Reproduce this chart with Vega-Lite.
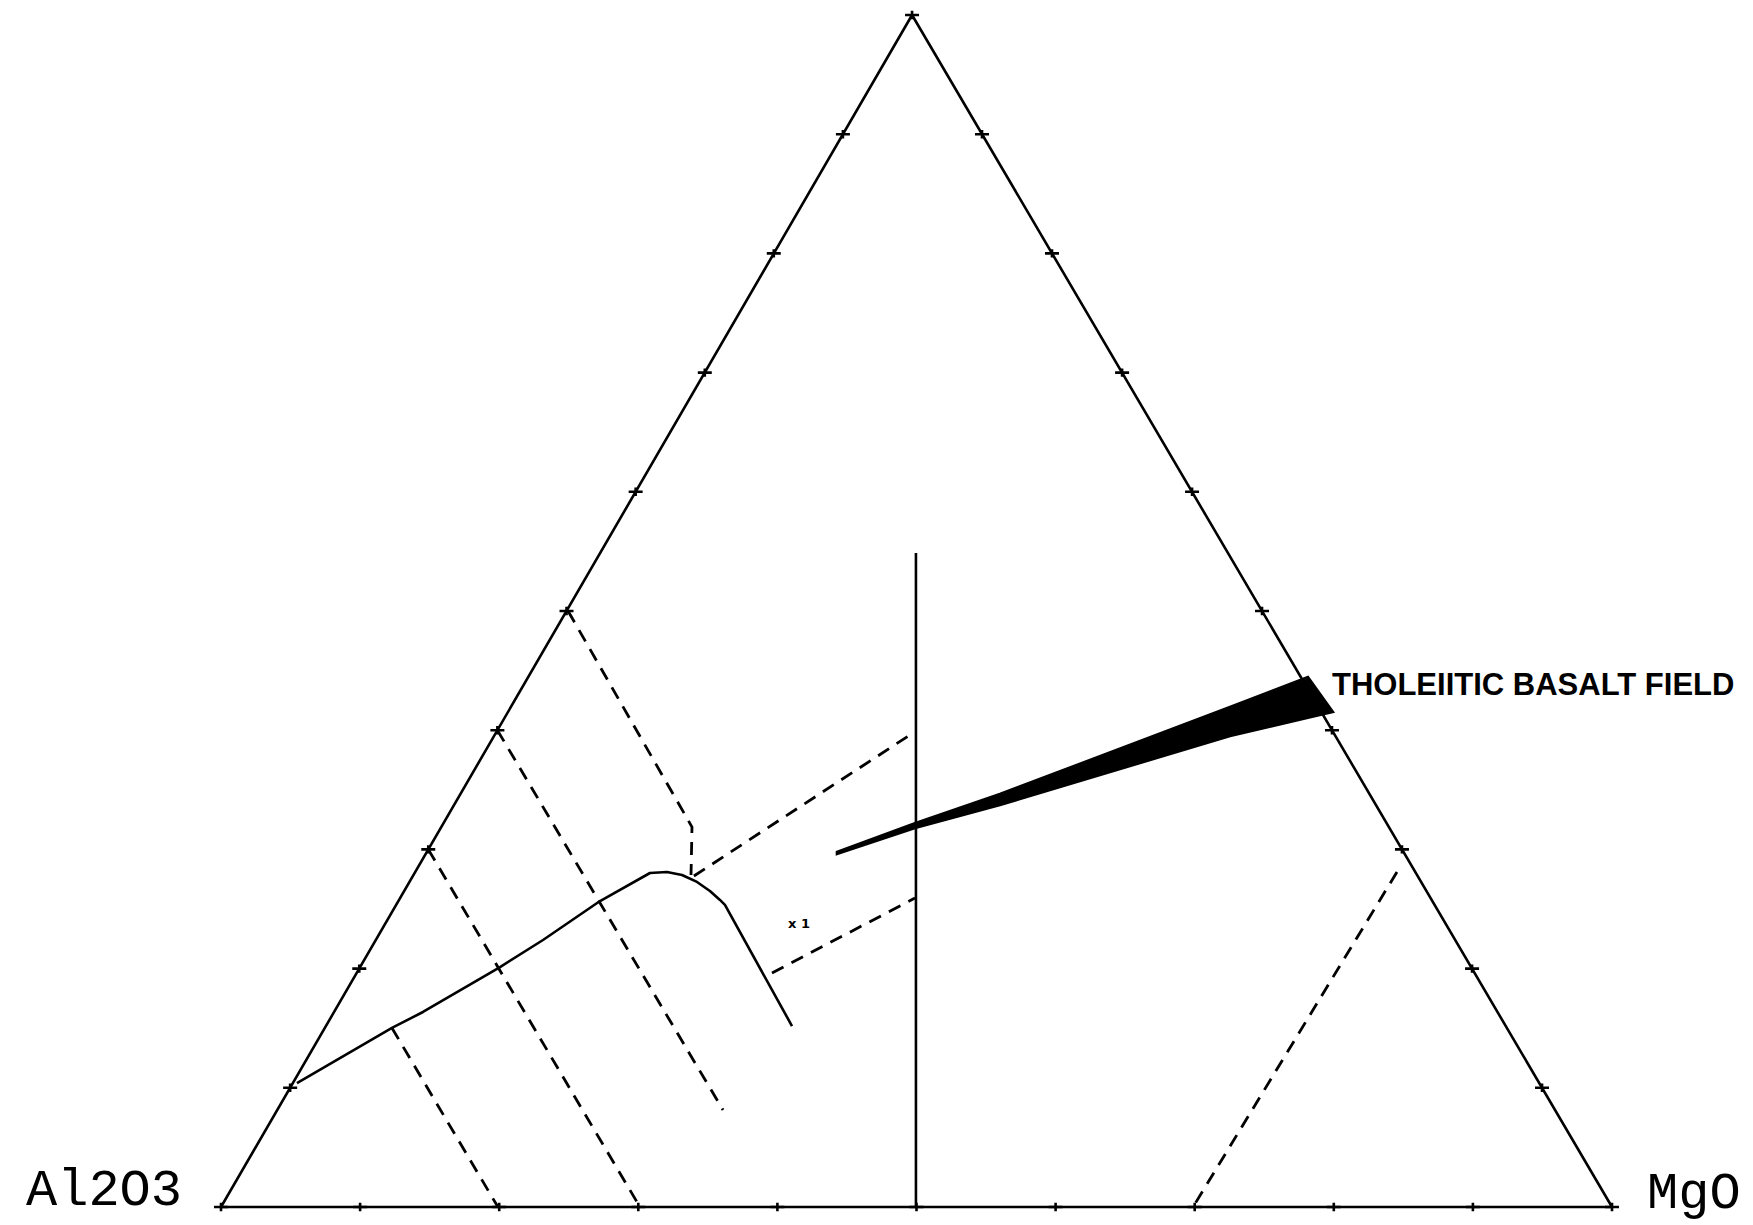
{
  "$schema": "https://vega.github.io/schema/vega-lite/v6.json",
  "width": 1391,
  "height": 1192,
  "autosize": {"type": "none"},
  "padding": {"left": 221, "top": 15, "right": 141, "bottom": 18},
  "background": "white",
  "config": {"view": {"stroke": null}},
  "datasets": {
    "solid": [
      {"g": "tri", "o": 1, "X": 0, "Y": 0},
      {"g": "tri", "o": 2, "X": 49.68, "Y": 100},
      {"g": "tri", "o": 3, "X": 100, "Y": 0},
      {"g": "tri", "o": 4, "X": 0, "Y": 0},
      {"g": "vert", "o": 1, "X": 49.96, "Y": 0},
      {"g": "vert", "o": 2, "X": 49.96, "Y": 54.87},
      {"g": "curve", "o": 1, "X": 5.46, "Y": 10.40},
      {"g": "curve", "o": 2, "X": 12.29, "Y": 15.02},
      {"g": "curve", "o": 3, "X": 14.52, "Y": 16.36},
      {"g": "curve", "o": 4, "X": 20.06, "Y": 20.13},
      {"g": "curve", "o": 5, "X": 23.15, "Y": 22.40},
      {"g": "curve", "o": 6, "X": 27.25, "Y": 25.67},
      {"g": "curve", "o": 7, "X": 30.84, "Y": 28.02},
      {"g": "curve", "o": 8, "X": 32.06, "Y": 28.10},
      {"g": "curve", "o": 9, "X": 33.14, "Y": 27.85},
      {"g": "curve", "o": 10, "X": 34.22, "Y": 27.27},
      {"g": "curve", "o": 11, "X": 35.15, "Y": 26.51},
      {"g": "curve", "o": 12, "X": 35.87, "Y": 25.76},
      {"g": "curve", "o": 13, "X": 36.23, "Y": 25.34},
      {"g": "curve", "o": 14, "X": 41.05, "Y": 15.18}
    ],
    "dashed": [
      {"g": "d1", "o": 1, "X": 24.95, "Y": 50.0},
      {"g": "d1", "o": 2, "X": 33.86, "Y": 31.88},
      {"g": "d1", "o": 3, "X": 33.79, "Y": 27.85},
      {"g": "d2", "o": 1, "X": 19.87, "Y": 40.0},
      {"g": "d2", "o": 2, "X": 36.09, "Y": 8.14},
      {"g": "d3", "o": 1, "X": 14.90, "Y": 30.0},
      {"g": "d3", "o": 2, "X": 30.12, "Y": 0},
      {"g": "d4", "o": 1, "X": 12.29, "Y": 15.02},
      {"g": "d4", "o": 2, "X": 19.91, "Y": 0},
      {"g": "d6", "o": 1, "X": 34.0, "Y": 27.77},
      {"g": "d6", "o": 2, "X": 49.75, "Y": 39.77},
      {"g": "d7", "o": 1, "X": 39.61, "Y": 19.63},
      {"g": "d7", "o": 2, "X": 49.89, "Y": 25.92},
      {"g": "d8", "o": 1, "X": 84.54, "Y": 28.10},
      {"g": "d8", "o": 2, "X": 69.88, "Y": 0}
    ],
    "ticks": [
      {"X": 0, "Y": 0}, {"X": 4.97, "Y": 10}, {"X": 9.94, "Y": 20}, {"X": 14.90, "Y": 30},
      {"X": 19.87, "Y": 40}, {"X": 24.84, "Y": 50}, {"X": 29.81, "Y": 60}, {"X": 34.78, "Y": 70},
      {"X": 39.74, "Y": 80}, {"X": 44.71, "Y": 90}, {"X": 49.68, "Y": 100},
      {"X": 54.71, "Y": 90}, {"X": 59.74, "Y": 80}, {"X": 64.78, "Y": 70}, {"X": 69.81, "Y": 60},
      {"X": 74.84, "Y": 50}, {"X": 79.87, "Y": 40}, {"X": 84.90, "Y": 30}, {"X": 89.94, "Y": 20},
      {"X": 94.97, "Y": 10}, {"X": 100, "Y": 0},
      {"X": 10, "Y": 0}, {"X": 20, "Y": 0}, {"X": 30, "Y": 0}, {"X": 40, "Y": 0}, {"X": 50, "Y": 0},
      {"X": 60, "Y": 0}, {"X": 70, "Y": 0}, {"X": 80, "Y": 0}, {"X": 90, "Y": 0}
    ],
    "wedge": [
      {"X": 44.28, "Y": 29.78, "Y2": 29.62},
      {"X": 49.89, "Y": 32.21, "Y2": 31.80},
      {"X": 56.00, "Y": 34.65, "Y2": 33.72},
      {"X": 72.54, "Y": 41.95, "Y2": 39.51},
      {"X": 78.14, "Y": 44.46, "Y2": 41.04},
      {"X": 79.94, "Y": 41.53, "Y2": 41.53}
    ]
  },
  "encoding": {
    "x": {"field": "X", "type": "quantitative", "scale": {"domain": [0, 100], "nice": false, "zero": false}, "axis": null},
    "y": {"field": "Y", "type": "quantitative", "scale": {"domain": [0, 100], "nice": false, "zero": false}, "axis": null}
  },
  "layer": [
    {
      "data": {"name": "solid"},
      "mark": {"type": "line", "color": "black", "strokeWidth": 2.6, "strokeJoin": "round"},
      "encoding": {"detail": {"field": "g"}, "order": {"field": "o"}}
    },
    {
      "data": {"name": "dashed"},
      "mark": {"type": "line", "color": "black", "strokeWidth": 2.8, "strokeDash": [13, 9]},
      "encoding": {"detail": {"field": "g"}, "order": {"field": "o"}}
    },
    {
      "data": {"name": "ticks"},
      "mark": {"type": "point", "shape": "M-1,0H1M0,-0.6V0.6", "filled": false, "stroke": "black", "strokeWidth": 2.6, "size": 196, "opacity": 1}
    },
    {
      "data": {"name": "wedge"},
      "mark": {"type": "area", "color": "black", "stroke": "black", "strokeWidth": 2.5, "opacity": 1},
      "encoding": {"y2": {"field": "Y2"}}
    },
    {
      "data": {"values": [{"X": 79.87, "Y": 42.95, "label": "THOLEIITIC BASALT FIELD"}]},
      "mark": {"type": "text", "align": "left", "baseline": "alphabetic", "font": "Liberation Sans", "fontWeight": "bold", "fontSize": 31, "color": "black"},
      "encoding": {"text": {"field": "label"}}
    },
    {
      "data": {"values": [{"X": 41.55, "Y": 23.74, "label": "x 1"}]},
      "mark": {"type": "text", "align": "center", "baseline": "middle", "font": "DejaVu Sans", "fontWeight": "bold", "fontSize": 13, "color": "black"},
      "encoding": {"text": {"field": "label"}}
    },
    {
      "data": {"values": [{"X": 0, "Y": 0, "label": "Al2O3"}]},
      "mark": {"type": "text", "align": "right", "baseline": "alphabetic", "dx": -39, "dy": -2, "font": "Liberation Mono", "fontSize": 52, "color": "black"},
      "encoding": {"text": {"field": "label"}}
    },
    {
      "data": {"values": [{"X": 100, "Y": 0, "label": "MgO"}]},
      "mark": {"type": "text", "align": "left", "baseline": "alphabetic", "dx": 35, "dy": 1, "font": "Liberation Mono", "fontSize": 52, "color": "black"},
      "encoding": {"text": {"field": "label"}}
    }
  ]
}
